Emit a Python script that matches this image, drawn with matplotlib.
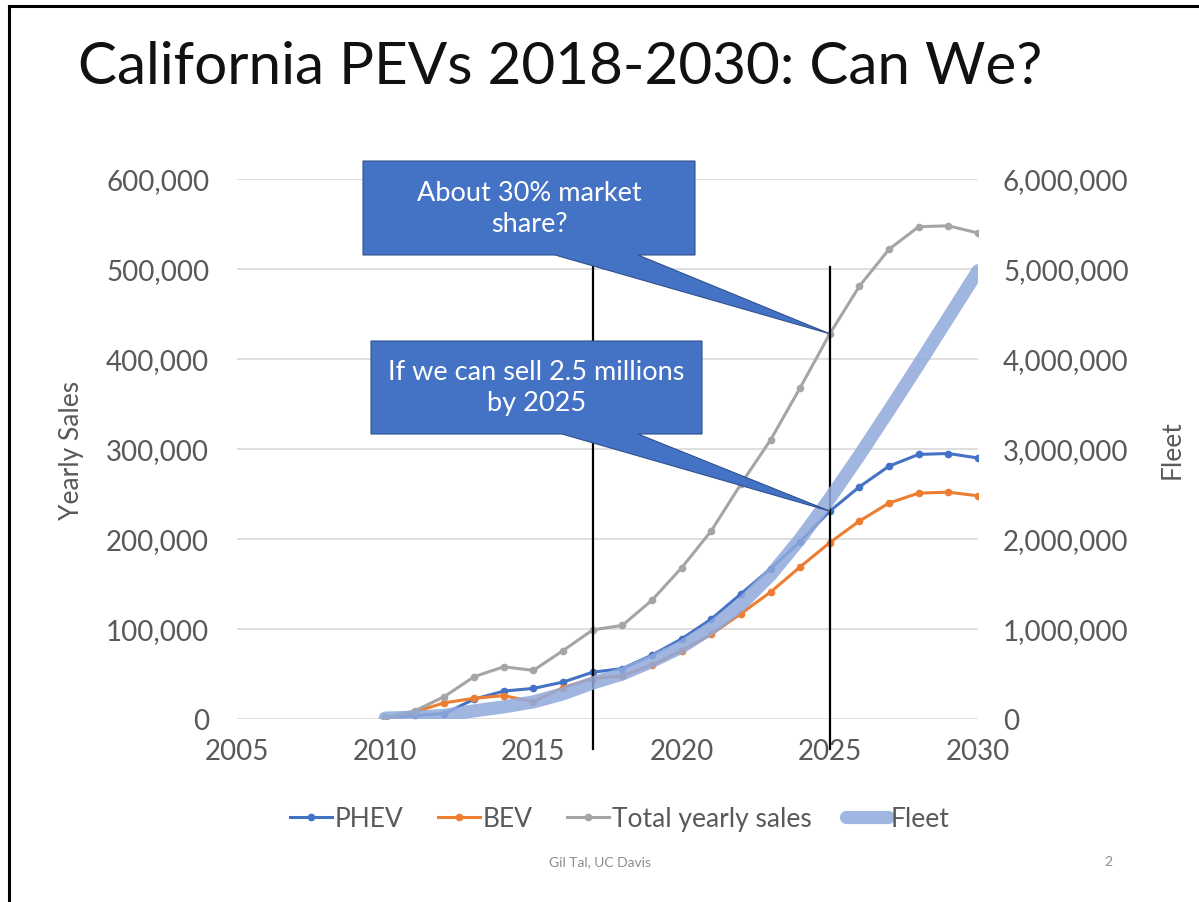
import matplotlib
matplotlib.use("Agg")
import matplotlib.pyplot as plt
import matplotlib.patches as patches

plt.rcParams['font.family'] = ['Lato', 'DejaVu Sans']

years = list(range(2010, 2031))
phev = [1000, 4000, 6000, 22000, 31000, 34000, 41000, 52000, 56000, 71000,
        89000, 111000, 139000, 167000, 197000, 231000, 258000, 281000, 294000, 295000, 290000]
bev = [0, 8000, 18000, 23000, 26000, 19000, 35000, 45000, 48000, 60000,
       76000, 94000, 117000, 141000, 169000, 196000, 220000, 240000, 251000, 252000, 248000]
total = [2000, 9000, 25000, 47000, 58000, 54000, 76000, 99000, 104000, 132000,
         168000, 209000, 261000, 310000, 368000, 428000, 481000, 522000, 547000, 548000, 540000]
fleet = [10000, 20000, 40000, 90000, 135000, 190000, 280000, 400000, 500000, 640000,
         800000, 1010000, 1270000, 1600000, 2000000, 2450000, 2930000, 3430000, 3940000, 4460000, 4980000]

x_ticks = [2005, 2010, 2015, 2020, 2025, 2030]
left_ticks = [0, 100000, 200000, 300000, 400000, 500000, 600000]
right_ticks = [0, 1000000, 2000000, 3000000, 4000000, 5000000, 6000000]
marker_years = [2017, 2025]

W, H = 1199, 903
gray_txt = '#595959'


def fx(px):
    return px / W


def fy(py):
    return 1 - py / H


fig = plt.figure(figsize=(W / 100, H / 100), dpi=100)
fig.patch.set_facecolor('white')

# slide border (left + top)
fig.add_artist(plt.Line2D([fx(8.5), fx(8.5)], [0, fy(7)], color='black', lw=2.2))
fig.add_artist(plt.Line2D([fx(8.5), 1], [fy(7), fy(7)], color='black', lw=2.2))

fig.text(fx(78), fy(68), 'California PEVs 2018-2030: Can We?', fontsize=42,
         color='#111111', va='center', ha='left')

ax = fig.add_axes([fx(237), fy(720), fx(978) - fx(237), fy(180) - fy(720)])
ax2 = ax.twinx()

ax.set_xlim(2005, 2030)
ax.set_ylim(0, 600000)
ax2.set_ylim(0, 6000000)
ax.set_xticks(x_ticks)
ax.set_yticks(left_ticks)
ax2.set_yticks(right_ticks)
ax.set_yticklabels([f'{v:,}' for v in left_ticks])
ax2.set_yticklabels([f'{v:,}' for v in right_ticks])
ax.grid(axis='y', color='#D9D9D9', lw=1.2)
ax.set_axisbelow(True)
for a in (ax, ax2):
    for s in a.spines.values():
        s.set_visible(False)
    a.tick_params(length=0, labelsize=20, labelcolor=gray_txt)
ax.tick_params(axis='y', pad=20)
ax2.tick_params(axis='y', pad=18)
ax.tick_params(axis='x', pad=14)

ax.set_ylabel('Yearly Sales', fontsize=19, color=gray_txt, labelpad=16)
ax2.set_ylabel('Fleet', fontsize=19, color=gray_txt, rotation=90, labelpad=22)

l1, = ax.plot(years, phev, '-o', color='#4472C4', lw=2.2, ms=4.5, label='PHEV')
l2, = ax.plot(years, bev, '-o', color='#ED7D31', lw=2.2, ms=4.5, label='BEV')
l3, = ax.plot(years, total, '-o', color='#A5A5A5', lw=2.2, ms=4.5, label='Total yearly sales')
l4, = ax2.plot(years, fleet, '-', color='#8FAADC', lw=9.5, alpha=0.85,
               solid_capstyle='round', solid_joinstyle='round', label='Fleet')

for yr in marker_years:
    ax.plot([yr, yr], [-33000, 502000], color='black', lw=1.6, clip_on=False, zorder=5)

fig.legend(handles=[l1, l2, l3, l4], loc='center', ncol=4, frameon=False,
           bbox_to_anchor=(fx(620), fy(820)), fontsize=19, labelcolor=gray_txt,
           handlelength=1.6, handletextpad=0.1, columnspacing=1.3)


def callout(box, base, tip_xy, tip_ax, text):
    # box: (x0, y0, x1, y1) px, base: (xa, xb) px on bottom edge, tip in data coords
    fig.canvas.draw()
    tx, ty = tip_ax.transData.transform(tip_xy)
    tip = fig.transFigure.inverted().transform((tx, ty))
    x0, y0, x1, y1 = box
    pts = [(fx(x0), fy(y0)), (fx(x1), fy(y0)), (fx(x1), fy(y1)), (fx(base[1]), fy(y1)),
           tuple(tip), (fx(base[0]), fy(y1)), (fx(x0), fy(y1))]
    poly = patches.Polygon(pts, closed=True, facecolor='#4472C4', edgecolor='#2F528F',
                           lw=0.8, transform=fig.transFigure, zorder=10)
    fig.add_artist(poly)
    fig.text(fx((x0 + x1) / 2), fy((y0 + y1) / 2), text, ha='center', va='center',
             color='white', fontsize=19.5, linespacing=1.3, zorder=11)


callout((363, 162, 695, 256), (555, 638), (2025, total[years.index(2025)]), ax,
        'About 30% market\nshare?')
callout((371, 342, 702, 435), (562, 638), (2025, phev[years.index(2025)]), ax,
        'If we can sell 2.5 millions\nby 2025')

fig.text(fx(600), fy(862), 'Gil Tal, UC Davis', ha='center', va='center',
         fontsize=10, color='#8C8C8C')
fig.text(fx(1108), fy(862), '2', ha='center', va='center', fontsize=10, color='#8C8C8C')

fig.savefig('out.png', dpi=100)
